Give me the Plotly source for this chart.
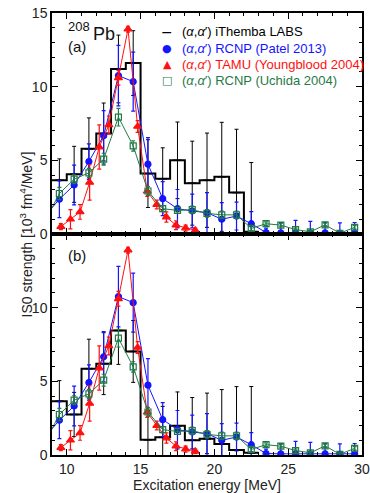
import plotly.graph_objects as go
from plotly.subplots import make_subplots

# ---- iThemba LABS (alpha, alpha') IS0 strength, 1 MeV bins starting at 9 MeV ----
ith_edges = [9, 10, 11, 12, 13, 14, 15, 16, 17, 18, 19, 20, 21, 22, 23]
ith_a = [3.65, 4.05, 5.78, 6.82, 11.2, 11.6, 4.1, 3.75, 5.0, 3.45, 3.65, 3.88, 2.81, 0.15]
ith_a_err = [1.45, 1.9, 2.1, 2.07, 2.3, 2.2, 2.3, 2.1, 2.6, 2.85, 3.2, 3.7, 4.3, 4.7]
ith_b = [3.65, 2.75, 5.86, 6.2, 8.45, 7.03, 1.03, 1.2, 1.98, 1.0, 1.1, 0.74, 0.34, 0.15]
ith_b_err = [1.4, 1.5, 2.0, 2.1, 2.3, 2.1, 2.0, 2.1, 2.3, 2.9, 3.1, 3.7, 4.3, 4.5]

# ---- RCNP (Patel 2013) ----
patel_x = [8.5, 9.5, 10.5, 11.5, 12.5, 13.5, 14.5, 15.5, 16.5, 17.5, 18.5,
           19.5, 20.5, 21.5, 22.5, 23.5, 24.5, 25.5, 26.5, 27.5, 28.5, 29.5]
patel_y = [1.2, 2.36, 3.33, 4.92, 6.67, 10.75, 10.34, 4.74, 2.4, 1.72, 1.56,
           1.45, 1.0, 1.22, 0.7, 0.1, 0.08, 0.08, 0.08, 0.08, 0.05, 0.08]
patel_err = [1.2, 1.25, 1.35, 1.2, 1.7, 2.05, 2.0, 1.8, 1.15, 1.3, 1.15,
             1.36, 1.13, 0.95, 0.82, 0.3, 0.7, 0.85, 0.78, 0.7, 0.7, 0.7]

# ---- TAMU (Youngblood 2004) ----
tamu_x = [9.6, 10.25, 10.9, 11.55, 12.2, 12.85, 13.5, 14.15, 14.8, 15.45,
          16.1, 16.75, 17.4, 18.05, 18.7]
tamu_y = [0.5, 1.0, 1.5, 3.5, 5.9, 7.4, 10.6, 13.9, 7.3, 2.9,
          2.0, 1.15, 0.6, 0.4, 0.25]
tamu_err = [0.2, 0.65, 0.5, 1.2, 1.5, 0.6, 0.5, 0.2, 0.4, 0.35,
            0.3, 0.35, 0.3, 0.2, 0.15]

# ---- RCNP (Uchida 2004) ----
uchida_x = patel_x
uchida_y = [0.8, 2.75, 3.72, 4.15, 5.08, 7.93, 5.98, 2.92, 1.72, 1.6, 1.65,
            1.4, 1.3, 1.3, 0.38, 0.7, 0.6, 0.3, 0.15, 0.62, 0.05, 0.45]
uchida_err = [0.4, 0.42, 0.3, 0.3, 0.4, 0.6, 0.35, 0.3, 0.2, 0.2, 0.25,
              0.25, 0.25, 0.25, 0.15, 0.12, 0.12, 0.1, 0.1, 0.12, 0.1, 0.12]

BLUE = "#1414ff"
RED = "#ff1010"
GREEN = "#1f7a46"
FONT = "Liberation Sans, Arial, sans-serif"
SYMFONT = "DejaVu Sans, sans-serif"
ALPHA = "(<i>α</i>,<i>α</i>′)"

# plot-area geometry in pixels (used to place the key and panel labels)
W, H = 370, 493
ML, MR, MT, MB = 52, 8, 13, 38


def px(xp):
    return (xp - ML) / (W - ML - MR)


def py(yp):
    return (H - MB - yp) / (H - MB - MT)


fig = make_subplots(rows=2, cols=1, shared_xaxes=True, vertical_spacing=0)

series_style = [
    (patel_x, patel_y, patel_err, BLUE, "circle", 6),
    (tamu_x, tamu_y, tamu_err, RED, "triangle-up", 7),
    (uchida_x, uchida_y, uchida_err, GREEN, "square-open", 6),
]


def add_panel(row, ith_vals, ith_errs):
    centers = [e + 0.5 for e in ith_edges[:-1]]
    # iThemba histogram drawn as steps, with its error bars at bin centres
    fig.add_trace(go.Scatter(
        x=ith_edges, y=ith_vals + [ith_vals[-1]], mode="lines",
        line=dict(shape="hv", color="black", width=2),
        showlegend=False, hoverinfo="skip"), row=row, col=1)
    fig.add_trace(go.Scatter(
        x=centers, y=ith_vals, mode="markers",
        marker=dict(symbol="line-ew", size=6, color="black",
                    line=dict(color="black", width=1.5)),
        error_y=dict(type="data", array=ith_errs, color="black", thickness=1, width=2),
        showlegend=False), row=row, col=1)
    for xs, ys, errs, col, sym, size in series_style:
        fig.add_trace(go.Scatter(
            x=xs, y=ys, mode="lines+markers",
            line=dict(color=col, width=1),
            marker=dict(symbol=sym, size=size, color=col, line=dict(width=1.2, color=col)),
            error_y=dict(type="data", array=errs, color=col, thickness=1.2, width=2),
            showlegend=False), row=row, col=1)


add_panel(1, ith_a, ith_a_err)
add_panel(2, ith_b, ith_b_err)

axis_common = dict(
    showline=True, linecolor="black", linewidth=1.5, mirror="allticks",
    ticks="inside", ticklen=6, tickwidth=1, tickcolor="black",
    showgrid=False, zeroline=False,
    tickfont=dict(family=FONT, size=14, color="#222"),
)
fig.update_xaxes(range=[9, 30], tickvals=[10, 15, 20, 25, 30],
                 minor=dict(dtick=1, ticks="inside", ticklen=3, tickcolor="black"),
                 **axis_common)
fig.update_xaxes(showticklabels=False, row=1, col=1)
fig.update_xaxes(title=dict(text="Excitation energy [MeV]",
                            font=dict(family=FONT, size=14, color="#222"), standoff=2),
                 row=2, col=1)
fig.update_yaxes(range=[0, 15], minor=dict(dtick=1, ticks="inside", ticklen=3, tickcolor="black"),
                 **axis_common)
fig.update_yaxes(tickvals=[0, 5, 10, 15], row=1, col=1)
fig.update_yaxes(tickvals=[0, 5, 10], row=2, col=1)

fig.add_annotation(text="IS0 strength [10<sup>3</sup> fm<sup>4</sup>/MeV]",
                   textangle=-90, xref="paper", yref="paper", x=-0.118, y=0.5,
                   showarrow=False, font=dict(family=FONT, size=14, color="#222"))

# panel labels
fig.add_annotation(text="208", xref="paper", yref="paper", x=px(66), y=py(26),
                   xanchor="left", yanchor="middle", showarrow=False,
                   font=dict(family=FONT, size=13, color="#111"))
fig.add_annotation(text="Pb", xref="paper", yref="paper", x=px(91), y=py(34),
                   xanchor="left", yanchor="middle", showarrow=False,
                   font=dict(family=FONT, size=18, color="#111"))
fig.add_annotation(text="(a)", xref="paper", yref="paper", x=px(66), y=py(47),
                   xanchor="left", yanchor="middle", showarrow=False,
                   font=dict(family=FONT, size=15, color="#111"))
fig.add_annotation(text="(b)", xref="paper", yref="paper", x=px(66), y=py(255),
                   xanchor="left", yanchor="middle", showarrow=False,
                   font=dict(family=FONT, size=15, color="#111"))

# key: symbol glyph + coloured label per row
key_rows = [
    ("−", "black", 14, "iThemba LABS"),
    ("●", BLUE, 11, "RCNP (Patel 2013)"),
    ("▲", RED, 11, "TAMU (Youngblood 2004)"),
    ("□", GREEN, 11, "RCNP (Uchida 2004)"),
]
for i, (glyph, col, gsize, label) in enumerate(key_rows):
    yrow = 32 + 16 * i
    fig.add_annotation(text=glyph, xref="paper", yref="paper", x=px(167), y=py(yrow),
                       xanchor="center", yanchor="middle", showarrow=False,
                       font=dict(family=SYMFONT, size=gsize, color=col))
    fig.add_annotation(text=f"{ALPHA} {label}", xref="paper", yref="paper",
                       x=px(180), y=py(yrow), xanchor="left", yanchor="middle",
                       showarrow=False, font=dict(family=FONT, size=13, color=col))

fig.update_layout(
    width=W, height=H,
    margin=dict(l=ML, r=MR, t=MT, b=MB, autoexpand=False),
    plot_bgcolor="white", paper_bgcolor="white",
    font=dict(family=FONT, size=13, color="#222"),
    showlegend=False,
)

fig.write_html("out.html")
